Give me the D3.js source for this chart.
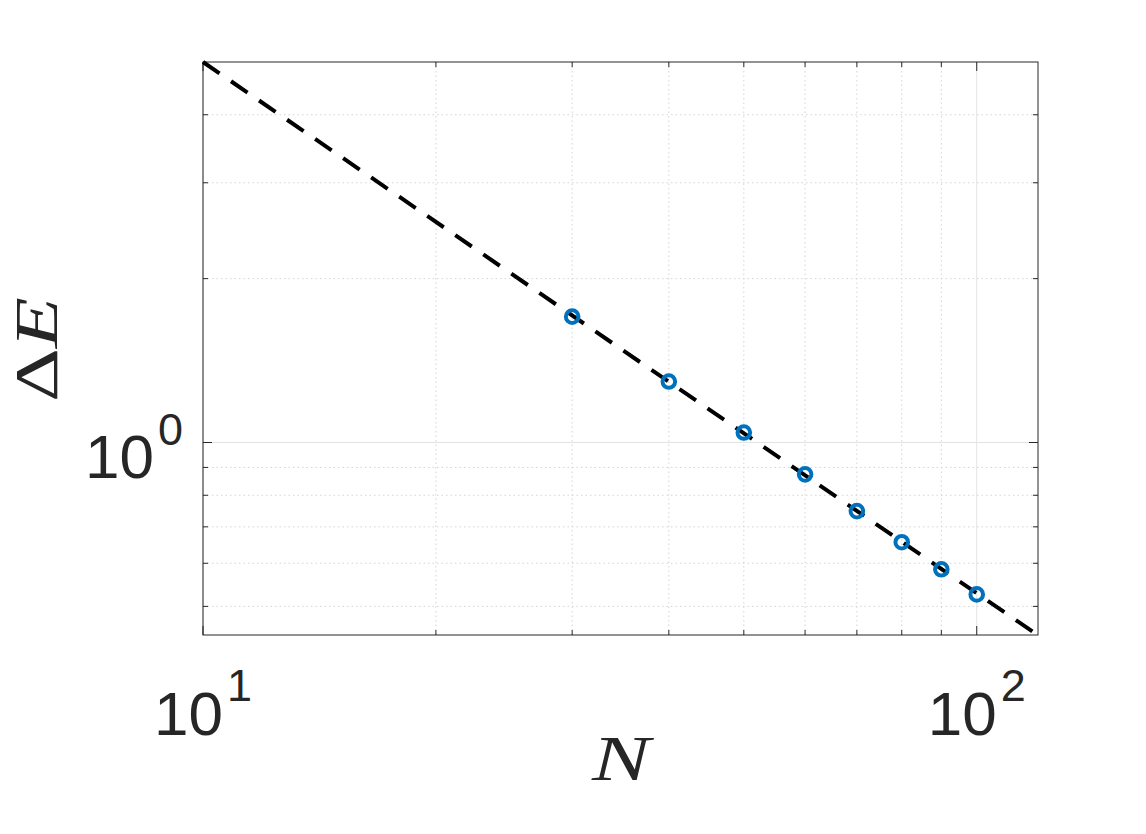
<!DOCTYPE html>
<html>
<head>
<meta charset="utf-8">
<script src="https://cdn.jsdelivr.net/npm/d3@7"></script>
<style>
  body { margin: 0; background: #fff; }
  svg { display: block; }
</style>
</head>
<body>
<script>
// data
var nVals = [30, 40, 50, 60, 70, 80, 90, 100];
var dEVals = [1.703, 1.294, 1.043, 0.874, 0.748, 0.656, 0.585, 0.526];

// fitted power law, drawn between its two ends
var fitN = [10, 120];
var fitE = [5.0, 0.4425];

var xMajor = [10, 100];
var xMinor = [20, 30, 40, 50, 60, 70, 80, 90];
var xTickExp = ["1", "2"];
var yMajor = [1];
var yMinor = [0.5, 0.6, 0.7, 0.8, 0.9, 2, 3, 4];
var yTickExp = ["0"];

var W = 1146, H = 834;
var margin = { top: 62, right: 108, bottom: 199, left: 203 },
    width = W - margin.left - margin.right,
    height = H - margin.top - margin.bottom;

var ink = "#262626";

var svg = d3.select("body").append("svg")
    .attr("width", W)
    .attr("height", H);

var g = svg.append("g")
    .attr("transform", "translate(" + margin.left + "," + margin.top + ")");

var x = d3.scaleLog().domain([10, 120]).range([0, width]);
var y = d3.scaleLog().domain([0.443, 5]).range([height, 0]);

// grid - minor dotted, major solid
g.selectAll(".xminor").data(xMinor).enter().append("line")
    .attr("x1", function (d) { return x(d); })
    .attr("x2", function (d) { return x(d); })
    .attr("y1", 0).attr("y2", height)
    .attr("stroke", "#d4d4d4").attr("stroke-width", 1)
    .attr("stroke-dasharray", "1.5,3");
g.selectAll(".yminor").data(yMinor).enter().append("line")
    .attr("y1", function (d) { return y(d); })
    .attr("y2", function (d) { return y(d); })
    .attr("x1", 0).attr("x2", width)
    .attr("stroke", "#d4d4d4").attr("stroke-width", 1)
    .attr("stroke-dasharray", "1.5,3");
g.selectAll(".xmajor").data(xMajor).enter().append("line")
    .attr("x1", function (d) { return x(d); })
    .attr("x2", function (d) { return x(d); })
    .attr("y1", 0).attr("y2", height)
    .attr("stroke", "#e3e3e3").attr("stroke-width", 1);
g.selectAll(".ymajor").data(yMajor).enter().append("line")
    .attr("y1", function (d) { return y(d); })
    .attr("y2", function (d) { return y(d); })
    .attr("x1", 0).attr("x2", width)
    .attr("stroke", "#e3e3e3").attr("stroke-width", 1);

// inward ticks on all four sides
function xTicks(vals, len) {
    [0, height].forEach(function (y0) {
        var dir = y0 === 0 ? 1 : -1;
        g.append("g").selectAll("line").data(vals).enter().append("line")
            .attr("x1", function (d) { return x(d); })
            .attr("x2", function (d) { return x(d); })
            .attr("y1", y0).attr("y2", y0 + dir * len)
            .attr("stroke", ink).attr("stroke-width", 1);
    });
}
function yTicks(vals, len) {
    [0, width].forEach(function (x0) {
        var dir = x0 === 0 ? 1 : -1;
        g.append("g").selectAll("line").data(vals).enter().append("line")
            .attr("y1", function (d) { return y(d); })
            .attr("y2", function (d) { return y(d); })
            .attr("x1", x0).attr("x2", x0 + dir * len)
            .attr("stroke", ink).attr("stroke-width", 1);
    });
}
xTicks(xMajor, 9);
xTicks(xMinor, 5);
yTicks(yMajor, 9);
yTicks(yMinor, 5);

// box
g.append("rect")
    .attr("x", 0).attr("y", 0)
    .attr("width", width).attr("height", height)
    .attr("fill", "none")
    .attr("stroke", ink).attr("stroke-width", 1);

// fit line
var line = d3.line()
    .x(function (d) { return x(d[0]); })
    .y(function (d) { return y(d[1]); });

g.append("path")
    .datum(d3.zip(fitN, fitE))
    .attr("d", line)
    .attr("fill", "none")
    .attr("stroke", "#000")
    .attr("stroke-width", 4)
    .attr("stroke-dasharray", "20,14");

// markers
g.selectAll(".pt").data(d3.zip(nVals, dEVals)).enter().append("circle")
    .attr("cx", function (d) { return x(d[0]); })
    .attr("cy", function (d) { return y(d[1]); })
    .attr("r", 6.3)
    .attr("fill", "none")
    .attr("stroke", "#0072BD")
    .attr("stroke-width", 4);

// tick labels 10^k
var xLab = g.selectAll(".xlab").data(xMajor).enter().append("text")
    .attr("x", function (d) { return x(d); })
    .attr("y", height + 100)
    .attr("text-anchor", "middle")
    .attr("fill", ink)
    .attr("font-family", "Liberation Sans, Arial, sans-serif");
xLab.append("tspan").attr("font-size", "62px").text("10");
xLab.append("tspan").attr("font-size", "45px").attr("dx", 4).attr("dy", -34)
    .text(function (d, i) { return xTickExp[i]; });

var yLab = g.selectAll(".ylab").data(yMajor).enter().append("text")
    .attr("x", -20)
    .attr("y", function (d) { return y(d) + 35; })
    .attr("text-anchor", "end")
    .attr("fill", ink)
    .attr("font-family", "Liberation Sans, Arial, sans-serif");
yLab.append("tspan").attr("font-size", "62px").text("10");
yLab.append("tspan").attr("font-size", "45px").attr("dx", 4).attr("dy", -33)
    .text(function (d, i) { return yTickExp[i]; });

// axis labels
svg.append("text")
    .attr("x", 592).attr("y", 780)
    .attr("fill", ink)
    .attr("font-family", "Liberation Serif, Times New Roman, serif")
    .attr("font-style", "italic")
    .attr("font-size", "64px")
    .attr("textLength", 58)
    .attr("lengthAdjust", "spacingAndGlyphs")
    .text("N");

var yl = svg.append("text")
    .attr("transform", "translate(57,402) rotate(-90)")
    .attr("fill", ink)
    .attr("font-family", "Liberation Serif, Times New Roman, serif")
    .attr("font-size", "62px")
    .attr("textLength", 105)
    .attr("lengthAdjust", "spacingAndGlyphs");
yl.append("tspan").text("\u0394");
yl.append("tspan").attr("font-style", "italic").text("E");
</script>
</body>
</html>
